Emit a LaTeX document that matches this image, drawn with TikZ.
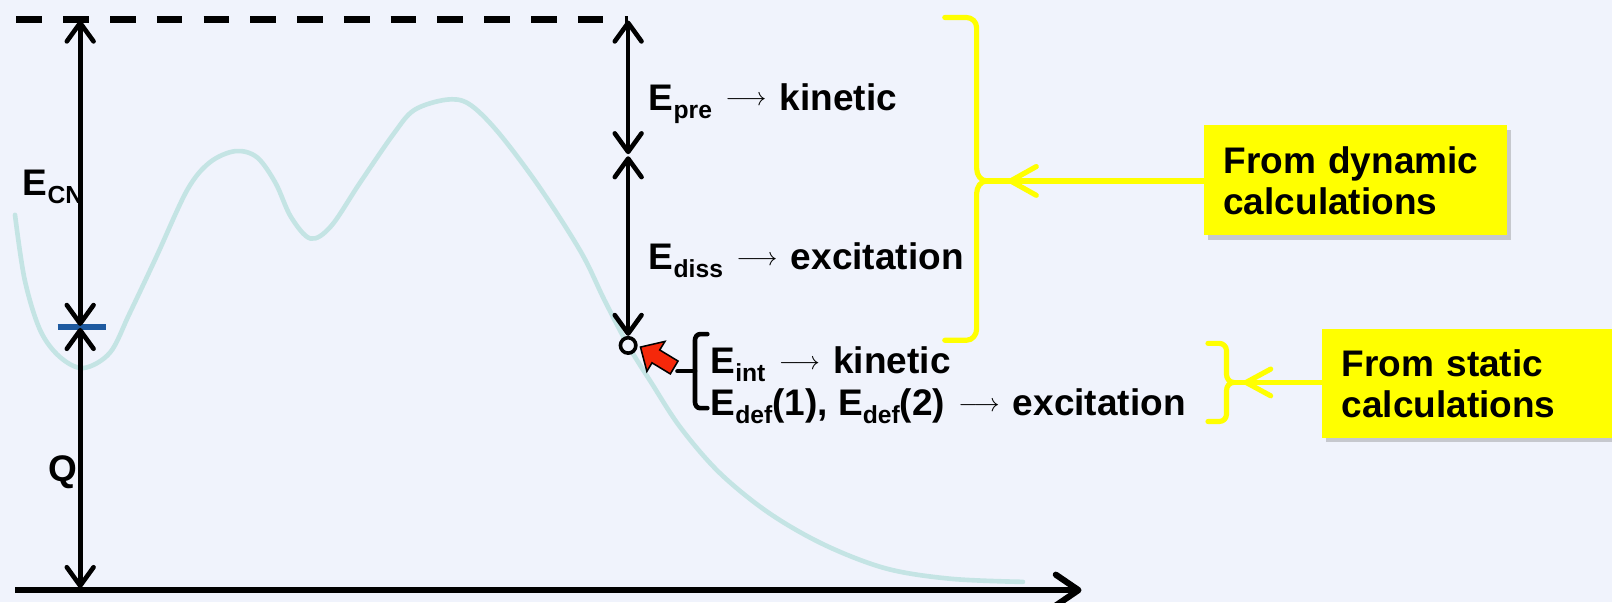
\documentclass[tikz,border=0pt]{standalone}
\usepackage{fontspec}
\setmainfont{Liberation Sans}
\usetikzlibrary{arrows.meta,shadows}
\definecolor{bg}{RGB}{240,243,252}
\definecolor{curvec}{RGB}{196,228,228}
\definecolor{tickblue}{RGB}{30,90,160}
\definecolor{ylw}{RGB}{255,255,0}
\definecolor{redarr}{RGB}{245,40,10}
\newcommand{\sbs}[1]{\raisebox{-8pt}{\fontsize{24}{24}\selectfont\bfseries #1}}
\newcommand{\arr}{\hspace{13pt}\raisebox{4pt}{\fontsize{25}{25}\selectfont$\longrightarrow$}\hspace{13pt}}
\begin{document}
\begin{tikzpicture}[x=1pt,y=-1pt,
  font=\fontsize{36}{40}\selectfont\bfseries,
  blk/.style={line width=4.5pt, black},
  dbl/.style={blk, {Straight Barb[length=18pt,width=26pt,round]}-{Straight Barb[length=18pt,width=26pt,round]}},
  lbl/.style={anchor=base west, inner sep=0pt},
  ybr/.style={line width=5pt, draw=ylw, line cap=round, line join=round},
  ybox/.style={fill=ylw, draw=none, align=left, inner xsep=19pt, inner ysep=0pt,
     drop shadow={opacity=0.3, shadow xshift=4pt, shadow yshift=-4pt, fill=black!60}},
  curve/.style={line width=4.5pt, draw=curvec, line cap=round}
]
\fill[bg] (0,0) rectangle (1568,586);
\useasboundingbox (0,0) rectangle (1568,586);

% potential curve
\draw[curve] plot[smooth, tension=0.55] coordinates {
 (14.6,209) (24,272) (39,321) (58,347) (81,358) (107,343) (126,305) (152,250)
 (182,185) (204,158) (229,147) (250,153) (268,178) (283,211)
 (302,232) (322,220) (350,178) (383,130) (403,107) (434,97) (456,101)
 (484,128) (524,181) (565,245) (588,292) (611,336) (634,373) (662,416)
 (700,460) (748,499) (802,530) (862,553) (925,563) (995,566)};

% dashed top level
\coordinate (dL) at (16,19);
\coordinate (dR) at (611,19);
\draw[line width=6pt, dash pattern=on 25pt off 20.5pt] (dL) -- (dR);

% axis
\coordinate (ax0) at (15,574);
\coordinate (ax1) at (1052,574);
\draw[line width=6pt, -{Straight Barb[length=22pt,width=30pt,round]}] (ax0) -- (ax1);

% left arrows
\coordinate (lt) at (78,20);
\coordinate (lm) at (78,318);
\coordinate (lb) at (78,572);
\draw[tickblue, line width=6pt] (56,318) -- (103,318);
\draw[dbl] (lt) -- ([yshift=1pt]lm);
\draw[dbl] ([yshift=-1pt]lm) -- (lb);
\node[lbl] (ecn) at (22,190) {E\sbs{CN}};
\node[lbl] (q) at (47,468) {Q};

% right arrows
\node[circle, draw, line width=3.5pt, minimum size=15pt, inner sep=0pt, fill=bg] (pt) at (611,336) {};
\coordinate (rt) at (611,20);
\coordinate (rm) at (611,151);
\draw[dbl] (rt) -- ([yshift=1pt]rm);
\draw[dbl] ([yshift=-1pt]rm) -- (pt.north);

\node[lbl] (epre) at (631,107) {E\sbs{pre}\arr kinetic};
\node[lbl] (ediss) at (631,262) {E\sbs{diss}\arr excitation};

% red block arrow
\filldraw[fill=redarr, draw=black, line width=1.5pt, line join=miter]
 (623,337.6) -- (646.8,332.1) -- (641.7,340.4) -- (659.5,351.2) -- (652,363.7)
 -- (634.2,352.9) -- (629.2,361.2) -- cycle;

% black brace
\draw[line width=4.5pt, line cap=round, line join=round]
 (688,325) -- (681,325) to[out=180,in=90] (676,331) -- (676,391) to[out=-90,in=180] (681,397) -- (688,397);
\draw[line width=4.5pt, line cap=round] (676,361) -- (659,361);

\node[lbl] (eint) at (691,363) {E\sbs{int}\arr kinetic};
\node[lbl] (edef) at (691,404) {E\sbs{def}(1), E\sbs{def}(2)\arr excitation};

% big yellow bracket
\draw[ybr] (919,17) -- (940,17) to[out=0,in=90] (950,27) -- (950,164)
 to[out=-90,in=180] (960,176) to[out=180,in=90] (950,188) -- (950,320)
 to[out=-90,in=0] (940,331) -- (919,331);
\coordinate (btip) at (958,176);

% dynamic box
\node[ybox, minimum width=295pt, minimum height=107pt, text width=257pt] (dyn) at (1318.5,175.5)
 {From dynamic\\calculations};
\draw[ybr] (dyn.west |- btip) -- (btip);
\draw[ybr] (1008,162) -- (983,176) -- (1008,190);

% small yellow bracket
\draw[ybr] (1175,334) -- (1186,334) to[out=0,in=90] (1193,341) -- (1193,364)
 to[out=-90,in=180] (1200,372) to[out=180,in=90] (1193,380) -- (1193,403)
 to[out=-90,in=0] (1186,410) -- (1175,410);
\coordinate (stip) at (1198,372);

% static box
\node[ybox, minimum width=300pt, minimum height=106pt, text width=262pt] (sta) at (1436,373)
 {From static\\calculations};
\draw[ybr] (sta.west |- stip) -- (stip);
\draw[ybr] (1236,359) -- (1212,372) -- (1236,385);
\end{tikzpicture}
\end{document}
